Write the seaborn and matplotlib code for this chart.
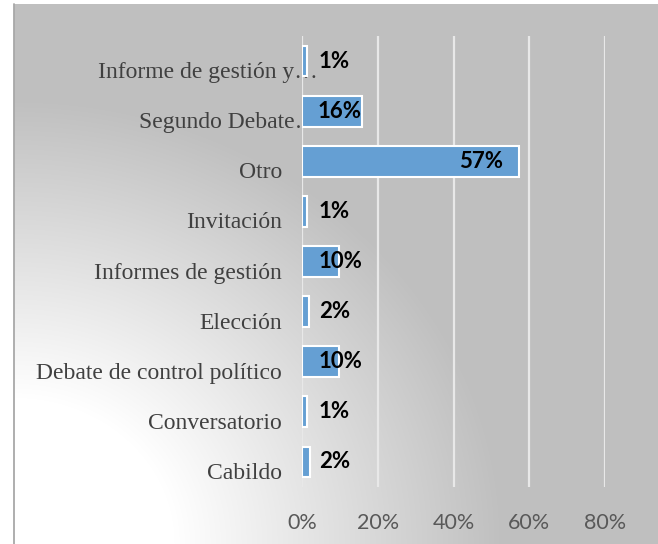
import numpy as np
import pandas as pd
import matplotlib
matplotlib.use("Agg")
import matplotlib.pyplot as plt
import matplotlib.transforms as mtransforms
from matplotlib.lines import Line2D
from matplotlib.ticker import FuncFormatter
import seaborn as sns

# ---- data ----
categories = ["Informe de gestión y…", "Segundo Debate…", "Otro", "Invitación",
              "Informes de gestión", "Elección", "Debate de control político",
              "Conversatorio", "Cabildo"]
values = [0.013, 0.158, 0.573, 0.012, 0.098, 0.019, 0.098, 0.012, 0.02]
x_ticks = [0.0, 0.2, 0.4, 0.6, 0.8]
truncated = [True, True, False, False, False, False, False, False, False]

df = pd.DataFrame({"category": categories, "value": values})

sns.set_theme(style="white")
W, H = 658, 544
fig = plt.figure(figsize=(W / 100, H / 100), dpi=100)
fig.patch.set_facecolor("white")

# ---- background radial gradient (white at bottom-left corner to gray) ----
bx0, by_top = 14, 4
bw, bh = W - bx0, H - by_top
bg = fig.add_axes([bx0 / W, 0, bw / W, bh / H], zorder=-5)
xx, yy = np.meshgrid(np.arange(bw), np.arange(bh))
r = np.sqrt((xx / 1.0) ** 2 + (yy * 1.1) ** 2)
t = np.clip((r - 160) / 330.0, 0, 1)
gray = 0xBF / 255.0
img = 1.0 * (1 - t) + gray * t
bg.imshow(np.dstack([img, img, img]), origin="lower", aspect="auto",
          extent=[0, bw, 0, bh], interpolation="bilinear")
bg.axis("off")
fig.add_artist(Line2D([bx0 / W, bx0 / W], [0, 1 - by_top / H],
                      transform=fig.transFigure, color="#A8A8A8", lw=1.3))

# ---- main axes ----
ax_left, ax_right = 302, 605
ax_top, ax_bottom = 36, 487
ax = fig.add_axes([ax_left / W, (H - ax_bottom) / H,
                   (ax_right - ax_left) / W, (ax_bottom - ax_top) / H])
ax.patch.set_alpha(0)

sns.barplot(data=df, x="value", y="category", orient="h", color="#659FD3",
            saturation=1, width=0.615, edgecolor="white", linewidth=1.5,
            ax=ax, zorder=3)

ax.set_xlim(0, 0.8)
ax.set_xticks(x_ticks)
ax.xaxis.set_major_formatter(FuncFormatter(lambda v, p: f"{v * 100:.0f}%"))
ax.grid(axis="x", color="#E8E8E8", lw=1.6, zorder=1)
ax.grid(axis="y", visible=False)
for s in ax.spines.values():
    s.set_visible(False)
ax.tick_params(axis="x", length=0, pad=19, labelsize=15.5, labelcolor="#595959")
for lab in ax.get_xticklabels():
    lab.set_fontfamily("Lato")
ax.set_xlabel("")
ax.set_ylabel("")
ax.set_yticklabels([])
ax.tick_params(axis="y", length=0)

# category labels
for i, (cat, tr) in enumerate(zip(categories, truncated)):
    dx = 16 if tr else -20
    trans = mtransforms.offset_copy(
        mtransforms.blended_transform_factory(ax.transAxes, ax.transData),
        fig=fig, x=dx * 0.72, y=-17 * 0.72, units="points")
    ax.text(0, i, cat, transform=trans, ha="right", va="baseline",
            fontsize=17, family="Liberation Serif", color="#404040", zorder=2)

# value labels
for i, v in enumerate(values):
    lab = f"{v * 100:.0f}%"
    if v > 0.3:
        x, ha = v - 0.043, "right"
    elif v > 0.12:
        x, ha = v, "right"
    else:
        x, ha = 0.044, "left"
    ax.text(x, i, lab, ha=ha, va="center", fontsize=16, fontweight="bold",
            family="Lato", color="black", zorder=5)

fig.savefig("out.png", dpi=100)
